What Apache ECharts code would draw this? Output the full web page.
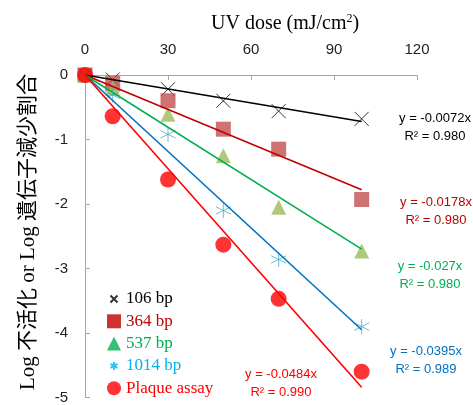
<!DOCTYPE html>
<html>
<head>
<meta charset="utf-8">
<script src="https://cdn.jsdelivr.net/npm/echarts@6/dist/echarts.min.js"></script>
<style>
html,body{margin:0;padding:0;background:#fff;}
#main{width:473px;height:405px;}
</style>
</head>
<body>
<div id="main"></div>
<script>
// data
var doses = [0, 10, 30, 50, 70, 100];
var bp106 = [0, -0.07, -0.22, -0.40, -0.56, -0.68];
var bp364 = [0, -0.13, -0.40, -0.84, -1.15, -1.93];
var bp537 = [0, -0.21, -0.61, -1.25, -2.05, -2.73];
var bp1014 = [0, -0.31, -0.92, -2.10, -2.86, -3.90];
var plaque = [0, -0.64, -1.62, -2.63, -3.47, -4.60];
var names = ['106 bp', '364 bp', '537 bp', '1014 bp', 'Plaque assay'];
var slopes = [-0.0072, -0.0178, -0.027, -0.0395, -0.0484];
var r2 = ['0.980', '0.980', '0.980', '0.989', '0.990'];
var xTicks = [0, 30, 60, 90, 120];
var yTicks = [0, -1, -2, -3, -4, -5];

var allData = [bp106, bp364, bp537, bp1014, plaque];
var lineColors = ['#000000', '#C00000', '#00B050', '#0070C0', '#FF0000'];
var textColors = ['#000000', '#C00000', '#00B050', '#00B0F0', '#FF0000'];

var myChart = echarts.init(document.getElementById('main'));

function pairs(arr) {
  return doses.map(function (d, i) { return [d, arr[i]]; });
}

var symbols = [
  'path://M0,0L10,10M10,0L0,10',
  'rect',
  'triangle',
  'path://M5,0L5,10M0.7,2.5L9.3,7.5M0.7,7.5L9.3,2.5',
  'circle'
];
var symbolSizes = [14, 15, 15, 15, 16];
var itemStyles = [
  {color: 'rgba(0,0,0,0)', borderColor: '#000', borderWidth: 1},
  {color: '#C0504D'},
  {color: '#9BBB59'},
  {color: 'rgba(0,0,0,0)', borderColor: '#4BACC6', borderWidth: 1},
  {color: '#FF0000'}
];
// legend keys look a bit different from the plot markers
var legendIcons = [
  'path://M0,0L0,0M3.5,3.5L10.5,10.5M10.5,3.5L3.5,10.5M14,14L14,14',
  'path://M1,1L13,1L13,13L1,13Z',
  'triangle',
  'path://M0,0L0,0M7,3L7,11M3.5,5L10.5,9M3.5,9L10.5,5M14,14L14,14',
  'circle'
];
var legendStyles = [
  {color: 'rgba(0,0,0,0)', borderColor: '#000', borderWidth: 2},
  {color: '#C00000', borderWidth: 0},
  {color: '#00B050', borderWidth: 0},
  {color: 'rgba(0,0,0,0)', borderColor: '#00B0F0', borderWidth: 2},
  {color: '#FF0000', borderWidth: 0}
];

var series = [];
// trend lines
slopes.forEach(function (s, i) {
  series.push({
    name: 'trend' + i,
    type: 'line',
    data: [[0, 0], [100, s * 100]],
    symbol: 'none',
    lineStyle: {color: lineColors[i], width: 1.6},
    z: 3,
    silent: true
  });
});
// points
allData.forEach(function (arr, i) {
  series.push({
    name: names[i],
    type: 'scatter',
    data: pairs(arr),
    symbol: symbols[i],
    symbolSize: symbolSizes[i],
    itemStyle: itemStyles[i],
    z: 2
  });
});

var eqPos = [[435, 118], [436, 202], [430, 266], [426, 351], [281, 374]];
var graphics = [];
slopes.forEach(function (s, i) {
  graphics.push({
    type: 'text', x: eqPos[i][0], y: eqPos[i][1],
    style: {text: 'y = ' + s + 'x', fill: lineColors[i], font: '13px "Liberation Sans"', align: 'center', verticalAlign: 'middle'}
  });
  graphics.push({
    type: 'text', x: eqPos[i][0], y: eqPos[i][1] + 18,
    style: {text: 'R² = ' + r2[i], fill: lineColors[i], font: '13px "Liberation Sans"', align: 'center', verticalAlign: 'middle'}
  });
});
graphics.push({
  type: 'text', x: 28, y: 232, rotation: Math.PI / 2,
  style: {text: 'Log 不活化 or Log 遺伝子減少割合', fill: '#000', font: '21px "Liberation Serif", "Noto Sans CJK JP"', align: 'center', verticalAlign: 'middle'}
});

var option = {
  animation: false,
  title: {
    text: 'UV dose (mJ/cm{sup|2})',
    left: 206,
    top: 8,
    textStyle: {
      fontFamily: 'Liberation Serif',
      fontSize: 20,
      fontWeight: 'normal',
      color: '#000',
      rich: {sup: {fontSize: 12, verticalAlign: 'top', padding: [0, 0, 10, 0], fontFamily: 'Liberation Serif', color: '#000'}}
    }
  },
  legend: {
    data: names.map(function (n, i) {
      return {name: n, icon: legendIcons[i], itemStyle: legendStyles[i], textStyle: {color: textColors[i]}};
    }),
    orient: 'vertical',
    left: 106,
    top: 290,
    padding: 0,
    itemWidth: 14,
    itemHeight: 14,
    itemGap: 4.3,
    textStyle: {fontFamily: 'Liberation Serif', fontSize: 17, lineHeight: 18}
  },
  grid: {left: 85, right: 56, top: 75, bottom: 1, containLabel: false},
  xAxis: {
    type: 'value',
    position: 'top',
    min: xTicks[0],
    max: xTicks[xTicks.length - 1],
    interval: 30,
    axisLine: {lineStyle: {color: '#A6A6A6'}},
    axisTick: {inside: true, length: 5, lineStyle: {color: '#A6A6A6'}},
    axisLabel: {margin: 18, color: '#222', fontFamily: 'Liberation Sans', fontSize: 15},
    splitLine: {show: false}
  },
  yAxis: {
    type: 'value',
    min: yTicks[yTicks.length - 1],
    max: yTicks[0],
    interval: 1,
    axisLine: {show: true, lineStyle: {color: '#A6A6A6'}},
    axisTick: {show: true, inside: true, length: 5, lineStyle: {color: '#A6A6A6'}},
    axisLabel: {margin: 17, color: '#222', fontFamily: 'Liberation Sans', fontSize: 15},
    splitLine: {show: false}
  },
  graphic: graphics,
  series: series
};

myChart.setOption(option);
</script>
</body>
</html>
